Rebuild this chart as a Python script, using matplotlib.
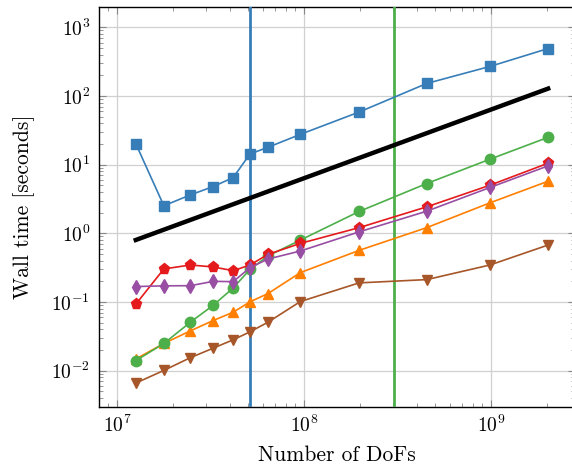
import numpy as np
import matplotlib
matplotlib.use("Agg")
import matplotlib.pyplot as plt
from matplotlib.ticker import LogLocator, NullFormatter

plt.rcParams['font.family'] = 'serif'
plt.rcParams['font.serif'] = ['cmr10', 'DejaVu Serif']
plt.rcParams['mathtext.fontset'] = 'cm'
plt.rcParams['axes.formatter.use_mathtext'] = True

# problem sizes (DoFs)
dofs = [1.26e7, 1.78e7, 2.47e7, 3.27e7, 4.18e7, 5.14e7, 6.42e7,
        9.56e7, 1.97e8, 4.53e8, 9.87e8, 2.02e9]

# wall times in seconds
t_blue = [20.2, 2.52, 3.63, 4.80, 6.48, 14.3, 17.9, 27.6, 58.3, 152, 269, 490]
t_green = [0.0140, 0.0249, 0.0509, 0.0899, 0.160, 0.299, 0.468, 0.798,
           2.08, 5.31, 12.0, 25.0]
t_red = [0.0929, 0.303, 0.346, 0.324, 0.286, 0.346, 0.494, 0.714,
         1.21, 2.43, 5.02, 10.5]
t_purple = [0.168, 0.172, 0.173, 0.200, 0.198, 0.316, 0.423, 0.553,
            1.05, 2.10, 4.65, 9.60]
t_orange = [0.0148, 0.0249, 0.0381, 0.0538, 0.0711, 0.1005, 0.133, 0.268,
            0.565, 1.21, 2.78, 5.74]
t_brown = [0.0066, 0.0101, 0.0155, 0.0213, 0.0282, 0.0368, 0.0509, 0.1016,
           0.190, 0.212, 0.346, 0.676]

# linear scaling reference line
ref_x = [1.26e7, 2.02e9]
ref_y = [0.80, 128]

# vertical markers
vline_blue = 5.14e7
vline_green = 3.02e8

fig = plt.figure(figsize=(5.72, 4.68), dpi=100)
ax = fig.add_axes([98.5 / 572, 61.5 / 468, 476.5 / 572, 399.5 / 468])

ax.axvline(vline_blue, color='#377eb8', lw=2.0, zorder=3)
ax.axvline(vline_green, color='#4daf4a', lw=2.0, zorder=3)

ax.plot(ref_x, ref_y, color='black', lw=3.2, zorder=4)

ax.plot(dofs, t_blue, color='#377eb8', marker='s', ms=7, lw=1.2, zorder=5)
ax.plot(dofs, t_brown, color='#a65628', marker='v', ms=7, lw=1.2, zorder=5)
ax.plot(dofs, t_orange, color='#ff7f00', marker='^', ms=7, lw=1.2, zorder=5)
ax.plot(dofs, t_green, color='#4daf4a', marker='o', ms=7.5, lw=1.2, zorder=5)
ax.plot(dofs, t_red, color='#e41a1c', marker='p', ms=8, lw=1.2, zorder=5)
ax.plot(dofs, t_purple, color='#984ea3', marker='d', ms=7, lw=1.2, zorder=6)

ax.set_xscale('log')
ax.set_yscale('log')
ax.set_xlim(10 ** 6.901, 10 ** 9.449)
ax.set_ylim(10 ** -2.521, 10 ** 3.295)

ax.yaxis.set_major_locator(LogLocator(base=10, numticks=12))
ax.yaxis.set_minor_locator(LogLocator(base=10, subs=np.arange(2, 10), numticks=12))
ax.yaxis.set_minor_formatter(NullFormatter())
ax.xaxis.set_minor_locator(LogLocator(base=10, subs=np.arange(2, 10), numticks=12))
ax.xaxis.set_minor_formatter(NullFormatter())

ax.grid(True, which='major', color='#d0d0d0', lw=0.9)
ax.set_axisbelow(True)
ax.tick_params(which='both', direction='in', top=True, right=True,
               color='#888888', labelsize=14)
ax.tick_params(which='major', length=5, pad=6)
ax.tick_params(which='minor', length=3)
for s in ax.spines.values():
    s.set_linewidth(1.0)

ax.set_xlabel('Number of DoFs', fontsize=15.5, labelpad=7)
ax.set_ylabel('Wall time [seconds]', fontsize=15.5, labelpad=12)

fig.savefig('out.png', dpi=100)
